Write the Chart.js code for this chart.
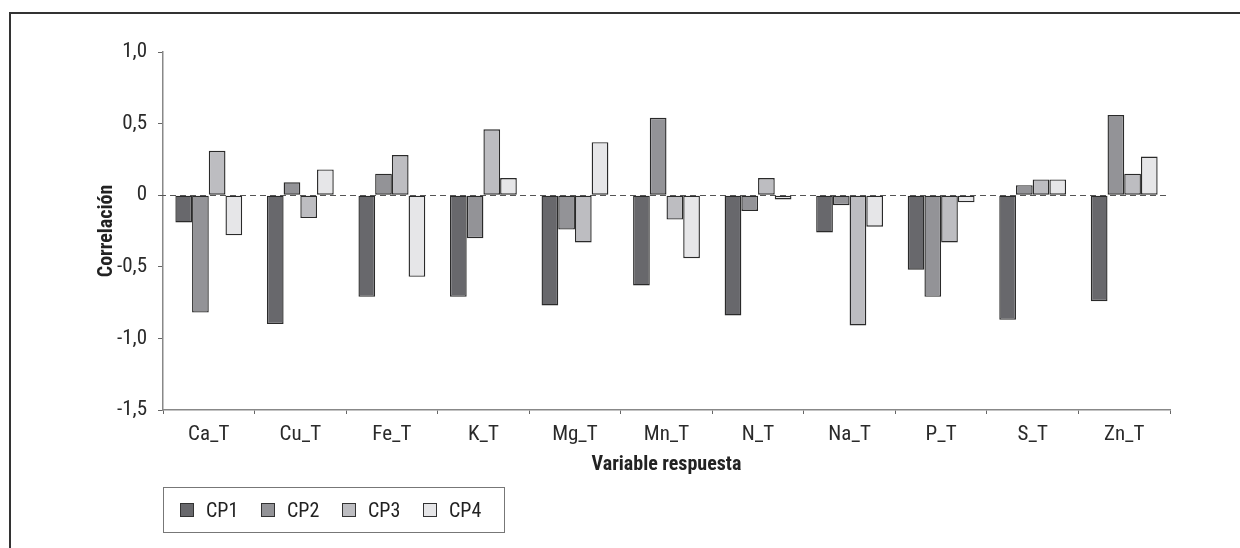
<!DOCTYPE html>
<html>
<head>
<meta charset="utf-8">
<script src="https://cdn.jsdelivr.net/npm/chart.js@4"></script>
<style>
  html, body { margin: 0; padding: 0; background: #fff; overflow: hidden; }
  #wrap { position: relative; width: 1240px; height: 548px; }
  #marco { position: absolute; left: 9px; top: 12px; width: 1300px; height: 600px; border: 2px solid #333; box-sizing: border-box; }
  #grafico { position: absolute; left: 0; top: 0; }
  #leyenda {
    position: absolute; left: 163px; top: 487px; width: 342px; height: 46px;
    border: 1px solid #777; box-sizing: border-box; display: flex; align-items: center;
    padding-left: 16px;
    font-family: 'Liberation Sans Narrow', 'Roboto Condensed', 'DejaVu Sans Condensed', sans-serif;
    font-size: 20px; color: #222;
  }
  .item { width: 83.5px; display: flex; align-items: center; }
  .cuadro { width: 14px; height: 14px; border: 1px solid #333; box-sizing: border-box; margin-right: 12px; }
</style>
</head>
<body>
<div id="wrap">
  <div id="marco"></div>
  <canvas id="grafico" width="1240" height="548"></canvas>
  <div id="leyenda"></div>
</div>
<script>
// Datos
const variables = ['Ca_T', 'Cu_T', 'Fe_T', 'K_T', 'Mg_T', 'Mn_T', 'N_T', 'Na_T', 'P_T', 'S_T', 'Zn_T'];
const cp1 = [-0.19, -0.90, -0.71, -0.71, -0.77, -0.63, -0.84, -0.26, -0.52, -0.87, -0.74];
const cp2 = [-0.82, 0.09, 0.15, -0.30, -0.24, 0.54, -0.11, -0.07, -0.71, 0.07, 0.56];
const cp3 = [0.31, -0.16, 0.28, 0.46, -0.33, -0.17, 0.12, -0.91, -0.33, 0.11, 0.15];
const cp4 = [-0.28, 0.18, -0.57, 0.12, 0.37, -0.44, -0.03, -0.22, -0.05, 0.11, 0.27];
const nombres = ['CP1', 'CP2', 'CP3', 'CP4'];
const colores = ['#68686c', '#939397', '#bdbdc1', '#e6e6e8'];

const fuente = "'Liberation Sans Narrow', 'Roboto Condensed', 'DejaVu Sans Condensed', sans-serif";
Chart.defaults.font.family = fuente;
Chart.defaults.color = '#222';

// Línea discontinua en cero
const lineaCero = {
    id: 'lineaCero',
    afterDatasetsDraw(chart) {
        const ctx = chart.ctx;
        const y = Math.round(chart.scales.y.getPixelForValue(0)) + 0.5;
        ctx.save();
        ctx.strokeStyle = '#555';
        ctx.lineWidth = 1.2;
        ctx.setLineDash([6, 4]);
        ctx.beginPath();
        ctx.moveTo(chart.chartArea.left - 3, y);
        ctx.lineTo(chart.chartArea.right - 2, y);
        ctx.stroke();
        ctx.restore();
    }
};

const series = [cp1, cp2, cp3, cp4];

new Chart(document.getElementById('grafico').getContext('2d'), {
    type: 'bar',
    data: {
        labels: variables,
        datasets: series.map((valores, i) => ({
            label: nombres[i],
            data: valores,
            backgroundColor: colores[i],
            borderColor: '#2a2a2a',
            borderWidth: 1.4,
            borderSkipped: false,
            categoryPercentage: 0.73,
            barPercentage: 1
        }))
    },
    options: {
        responsive: false,
        animation: false,
        layout: { padding: { left: 91, top: 52, right: 70, bottom: 67 } },
        plugins: { legend: { display: false }, tooltip: { enabled: false } },
        scales: {
            x: {
                offset: true,
                border: { color: '#888', width: 1.5 },
                grid: { drawOnChartArea: false, drawTicks: true, tickLength: 4, color: '#666', offset: true },
                ticks: { font: { size: 21 }, padding: 8, color: '#2a2a2a' },
                title: { display: true, text: 'Variable respuesta', font: { size: 20, weight: 'bold' }, color: '#222', padding: { top: 4, bottom: 4 } },
                afterFit(scale) { scale.height = 71; }
            },
            y: {
                min: -1.5,
                max: 1,
                border: { color: '#888', width: 1.5 },
                grid: { drawOnChartArea: false, drawTicks: true, tickLength: 5, color: '#666' },
                ticks: {
                    stepSize: 0.5,
                    font: { size: 21 },
                    padding: 11,
                    color: '#2a2a2a',
                    callback: v => v === 0 ? '0' : v.toFixed(1).replace('.', ',')
                },
                title: { display: true, text: 'Correlación', font: { size: 20, weight: 'bold' }, color: '#222', padding: { top: 4, bottom: 4 } },
                afterFit(scale) { scale.width = 72; }
            }
        }
    },
    plugins: [lineaCero]
});

// Leyenda
const leyenda = document.getElementById('leyenda');
nombres.forEach((n, i) => {
    const item = document.createElement('div');
    item.className = 'item';
    const cuadro = document.createElement('span');
    cuadro.className = 'cuadro';
    cuadro.style.background = colores[i];
    const texto = document.createElement('span');
    texto.textContent = n;
    item.appendChild(cuadro);
    item.appendChild(texto);
    leyenda.appendChild(item);
});
</script>
</body>
</html>
